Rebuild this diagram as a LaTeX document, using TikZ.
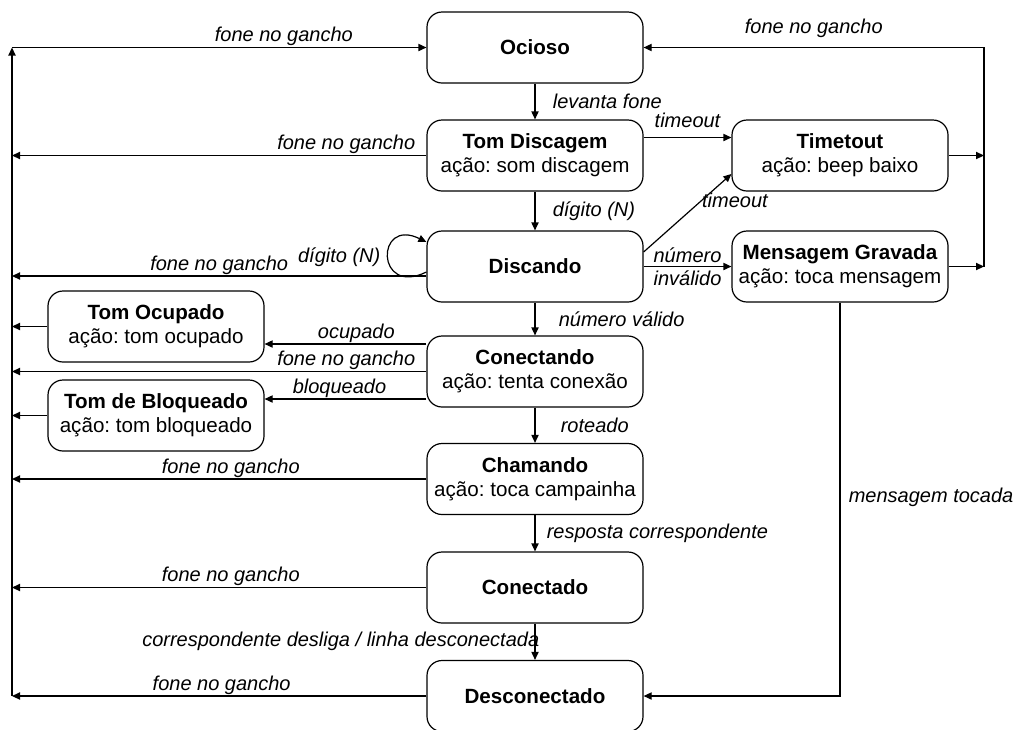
\documentclass[tikz,border=0pt]{standalone}
\usepackage{fontspec}
\setmainfont{Liberation Sans}
\usetikzlibrary{arrows.meta,positioning}
\frenchspacing

\tikzset{
  state/.style={draw, line width=0.6pt, rounded corners=7.5pt, fill=white,
                minimum width=108pt, minimum height=35.5pt, align=center},
  trans/.style={line width=0.6pt, -{Triangle[length=4pt,width=3.6pt]}},
  lbl/.style={font=\itshape, inner sep=0.6pt},
}

\begin{document}
\begin{tikzpicture}[x=0.5pt, y=-0.5pt,
    every node/.style={font=\fontsize{10.3}{11.8}\selectfont}]
  \useasboundingbox (0,0) rectangle (1020,729);

  % main column
  \node[state] (ocioso) at (535,47.5)  {\textbf{Ocioso}};
  \node[state] (dis)    at (535,155.5) {\textbf{Tom Discagem}\\ação: som discagem};
  \node[state] (disc)   at (535,266.5) {\textbf{Discando}};
  \node[state] (conn)   at (535,371.5) {\textbf{Conectando}\\ação: tenta conexão};
  \node[state] (cham)   at (535,479)   {\textbf{Chamando}\\ação: toca campainha};
  \node[state] (cnt)    at (535,587.5) {\textbf{Conectado}};
  \node[state] (desc)   at (535,696)   {\textbf{Desconectado}};

  % side states
  \node[state] (tmo)  at (840,155.5) {\textbf{Timetout}\\ação: beep baixo};
  \node[state] (msg)  at (840,266.5) {\textbf{Mensagem Gravada}\\ação: toca mensagem};
  \node[state] (ocup) at (156,326.5) {\textbf{Tom Ocupado}\\ação: tom ocupado};
  \node[state] (bloq) at (156,415.5) {\textbf{Tom de Bloqueado}\\ação: tom bloqueado};

  % return lines
  \coordinate (ltop) at (12,47.5);
  \coordinate (lbot) at (12,696);
  \coordinate (rtop) at (984,47.5);
  \coordinate (rbot) at (984,266.5);

  % down the main column
  \draw[trans] (ocioso) -- (dis)
    node[lbl, midway, right=8pt] {levanta fone};
  \draw[trans] (dis) -- (disc)
    node[lbl, midway, right=8pt] {dígito (N)};
  \draw[trans] (disc) -- (conn)
    node[lbl, midway, right=11pt] {número válido};
  \draw[trans] (conn) -- (cham)
    node[lbl, midway, right=12pt] {roteado};
  \draw[trans] (cham) -- (cnt)
    node[lbl, midway, right=5pt] {resposta correspondente};
  \draw[trans] (cnt) -- (desc)
    node[lbl, midway, anchor=east, xshift=3pt] {correspondente desliga / linha desconectada};

  % self loop
  \draw[trans] ([yshift=-2.75pt]disc.west) .. controls +(-25.5pt,-12.5pt) and +(-25.5pt,12.5pt) ..
    ([yshift=12.25pt]disc.west)
    node[lbl, pos=0.5, anchor=east, xshift=-3pt] {dígito (N)};

  % to the right
  \draw[trans] ([yshift=9pt]dis.east) -- ([yshift=9pt]tmo.west)
    node[lbl, midway, above=4pt] {timeout};
  \draw[trans] ([yshift=7.25pt]disc.east) -- ([yshift=-9.25pt]tmo.west)
    node[lbl, pos=0.66, anchor=west, inner sep=0pt] {timeout};
  \draw[trans] (disc.east) -- (msg.west)
    node[lbl, midway, above=1pt] {número}
    node[lbl, midway, below=1pt] {inválido};
  \draw[trans] (tmo.east) -- (tmo.east -| rtop);
  \draw[trans] (msg.east) -- (rbot);
  \draw[trans] (rbot) -- (rtop) -- (ocioso.east)
    node[lbl, midway, above=4pt] {fone no gancho};
  \draw[trans] (msg.south) |- (desc.east)
    node[lbl, pos=0.247, right=3.5pt] {mensagem tocada};

  % to the left
  \draw[trans] ([yshift=13.75pt]conn.west) -- ([yshift=13.75pt]conn.west -| ocup.east)
    node[lbl, pos=0.433, above] {ocupado};
  \draw[trans] ([yshift=-13.75pt]conn.west) -- ([yshift=-13.75pt]conn.west -| bloq.east)
    node[lbl, pos=0.537, above] {bloqueado};
  \draw[trans] (ltop) -- (ocioso.west)
    node[lbl, pos=0.656, above] {fone no gancho};
  \draw[trans] (dis.west) -- (dis.west -| ltop)
    node[lbl, pos=0.1935, above] {fone no gancho};
  \draw[trans] ([yshift=-4.75pt]disc.west) -- ([yshift=-4.75pt]disc.west -| ltop)
    node[lbl, pos=0.5, above] {fone no gancho};
  \draw[trans] (ocup.west) -- (ocup.west -| ltop);
  \draw[trans] (conn.west) -- (conn.west -| ltop)
    node[lbl, pos=0.1935, above] {fone no gancho};
  \draw[trans] (bloq.west) -- (bloq.west -| ltop);
  \draw[trans] (cham.west) -- (cham.west -| ltop)
    node[lbl, pos=0.472, above] {fone no gancho};
  \draw[trans] (cnt.west) -- (cnt.west -| ltop)
    node[lbl, pos=0.472, above] {fone no gancho};
  \draw[trans] (desc.west) -- (desc.west -| ltop)
    node[lbl, pos=0.494, above] {fone no gancho};
  \draw[trans] (lbot) -- (ltop);
\end{tikzpicture}
\end{document}
